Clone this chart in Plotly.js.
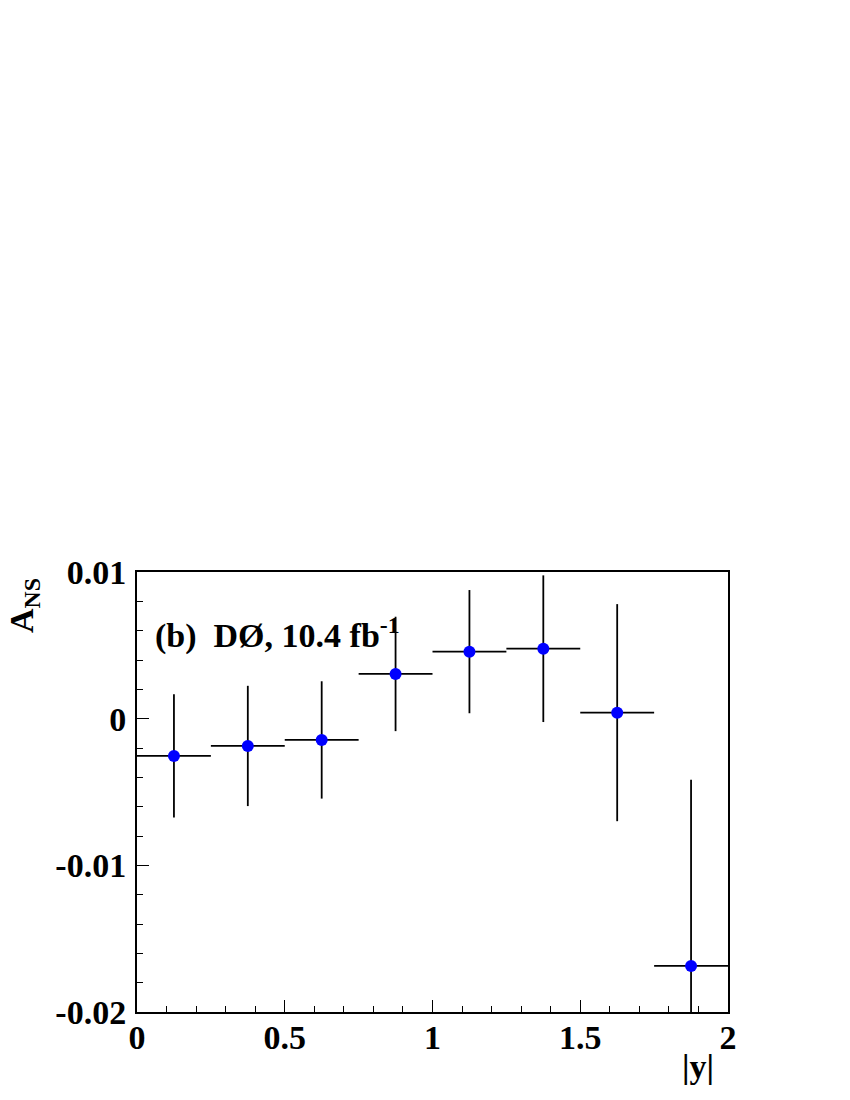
<!DOCTYPE html>
<html><head><meta charset="utf-8">
<script src="https://cdn.plot.ly/plotly-3.0.1.min.js"></script>
<style>body{margin:0;background:#fff}#c{width:850px;height:1100px}</style>
</head><body><div id="c"></div>
<script>
const binCenters = [0.125, 0.375, 0.625, 0.875, 1.125, 1.375, 1.625, 1.875];
const binHalfWidth = [0.125, 0.125, 0.125, 0.125, 0.125, 0.125, 0.125, 0.125];
const ansValues = [-0.00254, -0.00186, -0.00145, 0.00305, 0.00457, 0.00477, 0.00041, -0.01686];
const ansErrors = [0.0042, 0.0041, 0.0040, 0.0039, 0.0042, 0.0050, 0.0074, 0.0127];
const yTickVals = [-0.02, -0.01, 0, 0.01];
const yTickText = ["-0.02", "-0.01", "0", "0.01"];
const xTickVals = [0, 0.5, 1, 1.5, 2];
const xTickText = ["0", "0.5", "1", "1.5", "2"];

const F = "Liberation Serif, Times New Roman, serif";
const FS = 34;
const trace = {
  x: binCenters, y: ansValues, type: 'scatter', mode: 'markers',
  marker: {color: '#0000ff', size: 12},
  error_x: {type: 'data', array: binHalfWidth, visible: true, width: 0, thickness: 1.8, color: '#000'},
  error_y: {type: 'data', array: ansErrors, visible: true, width: 0, thickness: 1.8, color: '#000'},
  cliponaxis: true, showlegend: false, hoverinfo: 'none'
};
const layout = {
  width: 850, height: 1100,
  margin: {l: 137, r: 122, t: 572, b: 88},
  paper_bgcolor: '#fff', plot_bgcolor: '#fff',
  font: {family: F, color: '#000', size: FS, weight: 'bold'},
  xaxis: {range: [0, 2], showgrid: false, zeroline: false, showline: true, linecolor: '#000', linewidth: 2, mirror: true,
    ticks: 'inside', ticklen: 12, tickwidth: 1, tickcolor: '#000', tickvals: xTickVals, ticktext: xTickText,
    ticklabelstandoff: -6,
    minor: {ticks: 'inside', dtick: 0.1, ticklen: 6, tickwidth: 1, tickcolor: '#000'},
    tickfont: {family: F, size: FS, weight: 'bold'}},
  yaxis: {range: [-0.02, 0.01], showgrid: false, zeroline: false, showline: true, linecolor: '#000', linewidth: 2, mirror: true,
    ticks: 'inside', ticklen: 12, tickwidth: 1, tickcolor: '#000', tickvals: yTickVals, ticktext: yTickText,
    ticklabelstandoff: 2,
    minor: {ticks: 'inside', dtick: 0.002, ticklen: 6, tickwidth: 1, tickcolor: '#000'},
    tickfont: {family: F, size: FS, weight: 'bold'}},
  annotations: [
    {xref: 'x', yref: 'y', x: 0.055, y: 0.0058, xanchor: 'left', yanchor: 'middle', showarrow: false,
     text: '(b)  DØ, 10.4 fb<sup>-1</sup>', font: {family: F, size: FS, weight: 'bold'}},
    {xref: 'paper', yref: 'paper', x: 1, y: 0, xshift: -30, yshift: -54, xanchor: 'center', yanchor: 'middle', showarrow: false,
     text: '|y|', font: {family: F, size: FS, weight: 'bold'}},
    {xref: 'paper', yref: 'paper', x: 0, y: 1, xshift: -113, yshift: -34, xanchor: 'center', yanchor: 'middle', showarrow: false,
     textangle: -90, text: 'A<sub>NS</sub>', font: {family: F, size: FS, weight: 'bold'}}
  ]
};
Plotly.newPlot('c', [trace], layout, {staticPlot: true});
</script></body></html>
